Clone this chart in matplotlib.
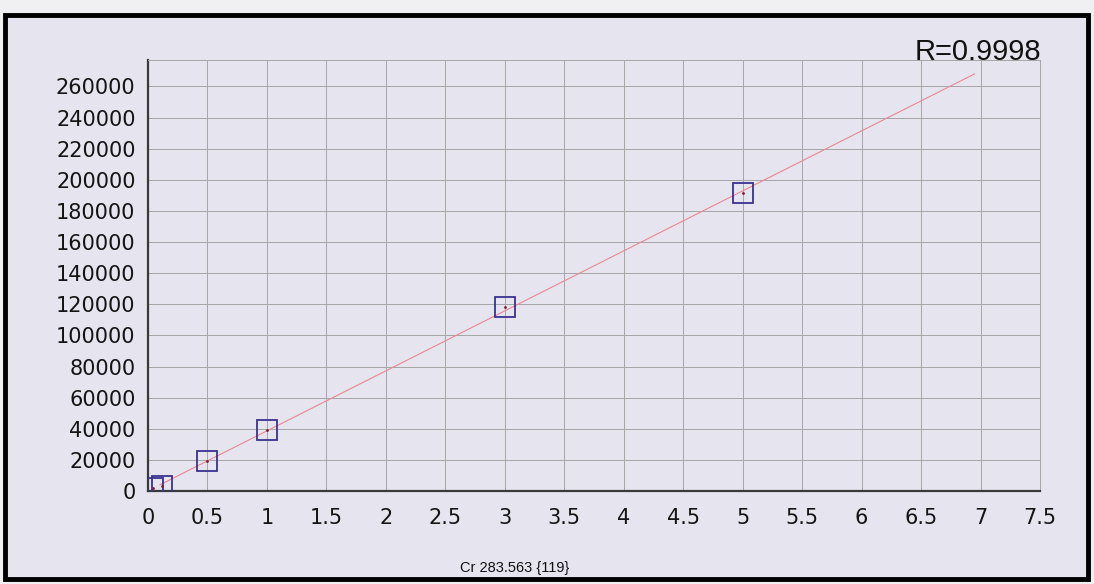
import numpy as np
import matplotlib.pyplot as plt
from matplotlib.patches import Rectangle

# calibration standards (concentration) and measured intensities
conc = [0.04, 0.12, 0.5, 1.0, 3.0, 5.0]
intensity = [2000, 3000, 19500, 39000, 118000, 191500]
fit_range = [0.1, 6.95]
r_text = 'R=0.9998'
x_label = 'Cr 283.563 {119}'
x_ticks = [0, 0.5, 1, 1.5, 2, 2.5, 3, 3.5, 4, 4.5, 5, 5.5, 6, 6.5, 7, 7.5]
y_ticks = list(range(0, 260001, 20000))

BG = '#e6e4ef'

fig = plt.figure(figsize=(10.94, 5.84), dpi=100)
fig.patch.set_facecolor('#f0f0f2')

# black frame round the chart
fig.patches.append(Rectangle((5 / 1094, 1 - 579 / 584), 1083 / 1094, 564 / 584,
                             transform=fig.transFigure, facecolor=BG,
                             edgecolor='black', linewidth=3.5, zorder=-5))

ax = fig.add_axes([148 / 1094, 1 - 491 / 584, 892 / 1094, 431 / 584])
ax.set_zorder(2)
ax.set_facecolor(BG)

slope, icpt = np.polyfit(conc, intensity, 1)
xf = np.array(fit_range)
ax.plot(xf, slope * xf + icpt, color='#e58a92', linewidth=0.8, zorder=3)

ax.plot(conc, intensity, linestyle='none', marker='s', markersize=14,
        markerfacecolor='none', markeredgecolor='#3b3290', markeredgewidth=1.3,
        zorder=4)
ax.plot(conc, intensity, linestyle='none', marker='.', markersize=2,
        color='#7a2030', zorder=5)

ax.set_xlim(0, 7.5)
ax.set_ylim(0, 277000)
ax.set_xticks(x_ticks)
ax.set_xticklabels([('%g' % t) for t in x_ticks])
ax.set_yticks(y_ticks)
ax.set_yticklabels([str(t) for t in y_ticks])
ax.tick_params(length=0, labelsize=15, colors='#141414')
ax.tick_params(axis='x', pad=12)
ax.tick_params(axis='y', pad=9)
for lab in ax.get_xticklabels() + ax.get_yticklabels():
    lab.set_fontfamily('DejaVu Sans')

ax.grid(True, color='#a6a6a6', linewidth=0.7)
for side in ['top', 'right']:
    ax.spines[side].set_color('#a6a6a6')
    ax.spines[side].set_linewidth(0.7)
for side in ['left', 'bottom']:
    ax.spines[side].set_color('#3a3a3a')
    ax.spines[side].set_linewidth(1.6)

fig.text(515 / 1094, 1 - 568 / 584, x_label, ha='center', va='center',
         fontsize=10.5, family='Liberation Sans', color='#111111')
fig.text(1041 / 1094, 1 - 52 / 584, r_text, ha='right', va='center',
         fontsize=21, family='Liberation Sans', color='#111111')

fig.savefig('out.png', dpi=100, facecolor=fig.get_facecolor())
